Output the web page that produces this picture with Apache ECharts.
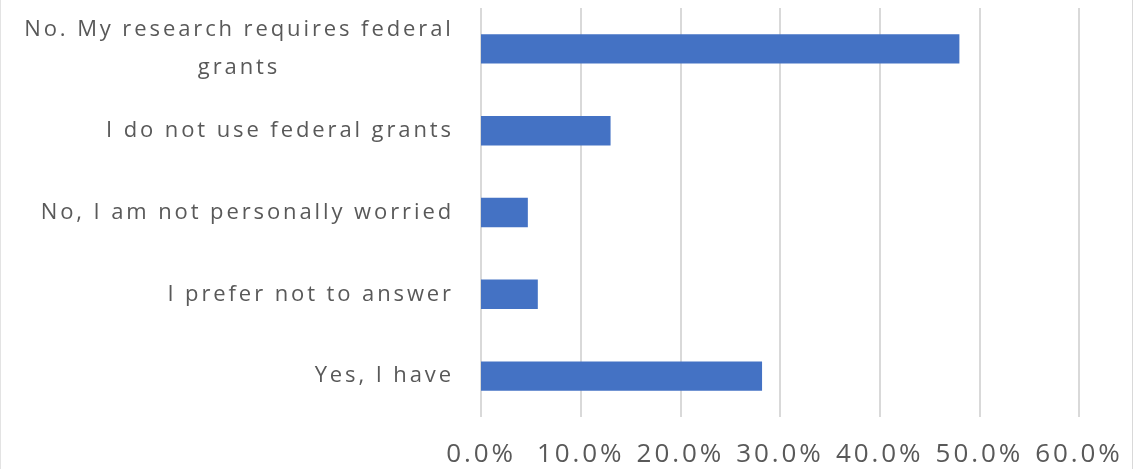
<!DOCTYPE html>
<html>
<head>
<meta charset="utf-8">
<script src="https://cdn.jsdelivr.net/npm/echarts@6/dist/echarts.min.js"></script>
<style>
  html, body { margin: 0; padding: 0; background: #fff; }
  #chart { width: 1134px; height: 469px; }
</style>
</head>
<body>
<div id="chart"></div>
<script>
// Survey answers, listed top to bottom
const categories = [
  'No. My research requires federal\ngrants',
  'I do not use federal grants',
  'No, I am not personally worried',
  'I prefer not to answer',
  'Yes, I have'
];
const shares = [48.0, 13.0, 4.7, 5.7, 28.2];
const tickValues = [0, 10, 20, 30, 40, 50, 60];

const FONT = '"Open Sans", "Liberation Sans", sans-serif';
const CAT_SIZE = 22;
const TICK_SIZE = 26;
const TRACKING = '2.9px';

// Loose letter tracking for all chart text, applied to both drawing and
// measuring so that label alignment stays consistent
const proto = CanvasRenderingContext2D.prototype;
const nativeFillText = proto.fillText;
const nativeMeasureText = proto.measureText;
proto.fillText = function () {
  this.letterSpacing = TRACKING;
  return nativeFillText.apply(this, arguments);
};
proto.measureText = function () {
  this.letterSpacing = TRACKING;
  return nativeMeasureText.apply(this, arguments);
};

// Width of the wrapped label's first line, so the second line can be centred under it
function textWidth(str, size) {
  const ctx = document.createElement('canvas').getContext('2d');
  ctx.font = size + 'px ' + FONT;
  return Math.ceil(ctx.measureText(str).width);
}
const wrapWidth = textWidth('No. My research requires federal', CAT_SIZE);

const chart = echarts.init(document.getElementById('chart'), null, { renderer: 'canvas' });
chart.setOption({
  animation: false,
  backgroundColor: '#ffffff',
  grid: { left: 481, right: 55, top: 8, bottom: 52, containLabel: false },
  xAxis: {
    type: 'value',
    min: tickValues[0],
    max: tickValues[tickValues.length - 1],
    interval: tickValues[1] - tickValues[0],
    axisLine: { show: false },
    axisTick: { show: false },
    splitLine: { show: true, lineStyle: { color: '#d9d9d9', width: 2 } },
    axisLabel: {
      margin: 23,
      color: '#595959',
      fontFamily: FONT,
      fontSize: TICK_SIZE,
      formatter: v => v.toFixed(1) + '%'
    }
  },
  yAxis: {
    type: 'category',
    data: categories,
    inverse: true,
    axisLine: { show: false },
    axisTick: { show: false },
    axisLabel: {
      margin: 27,
      color: '#595959',
      fontFamily: FONT,
      fontSize: CAT_SIZE,
      lineHeight: 38,
      formatter: function (val) {
        if (val.indexOf('\n') < 0) return val;
        return val.split('\n').map(s => '{c|' + s + '}').join('\n');
      },
      rich: {
        c: {
          width: wrapWidth,
          align: 'center',
          color: '#595959',
          fontFamily: FONT,
          fontSize: CAT_SIZE,
          lineHeight: 38
        }
      }
    }
  },
  series: [{
    type: 'bar',
    data: shares,
    barWidth: '36%',
    itemStyle: { color: '#4472c4' },
    silent: true
  }],
  graphic: [
    { type: 'line', shape: { x1: 0.5, y1: 0, x2: 0.5, y2: 469 }, style: { stroke: '#e3e3e3', lineWidth: 1 } },
    { type: 'line', shape: { x1: 1132.5, y1: 0, x2: 1132.5, y2: 469 }, style: { stroke: '#d9d9d9', lineWidth: 1 } }
  ]
});
</script>
</body>
</html>
